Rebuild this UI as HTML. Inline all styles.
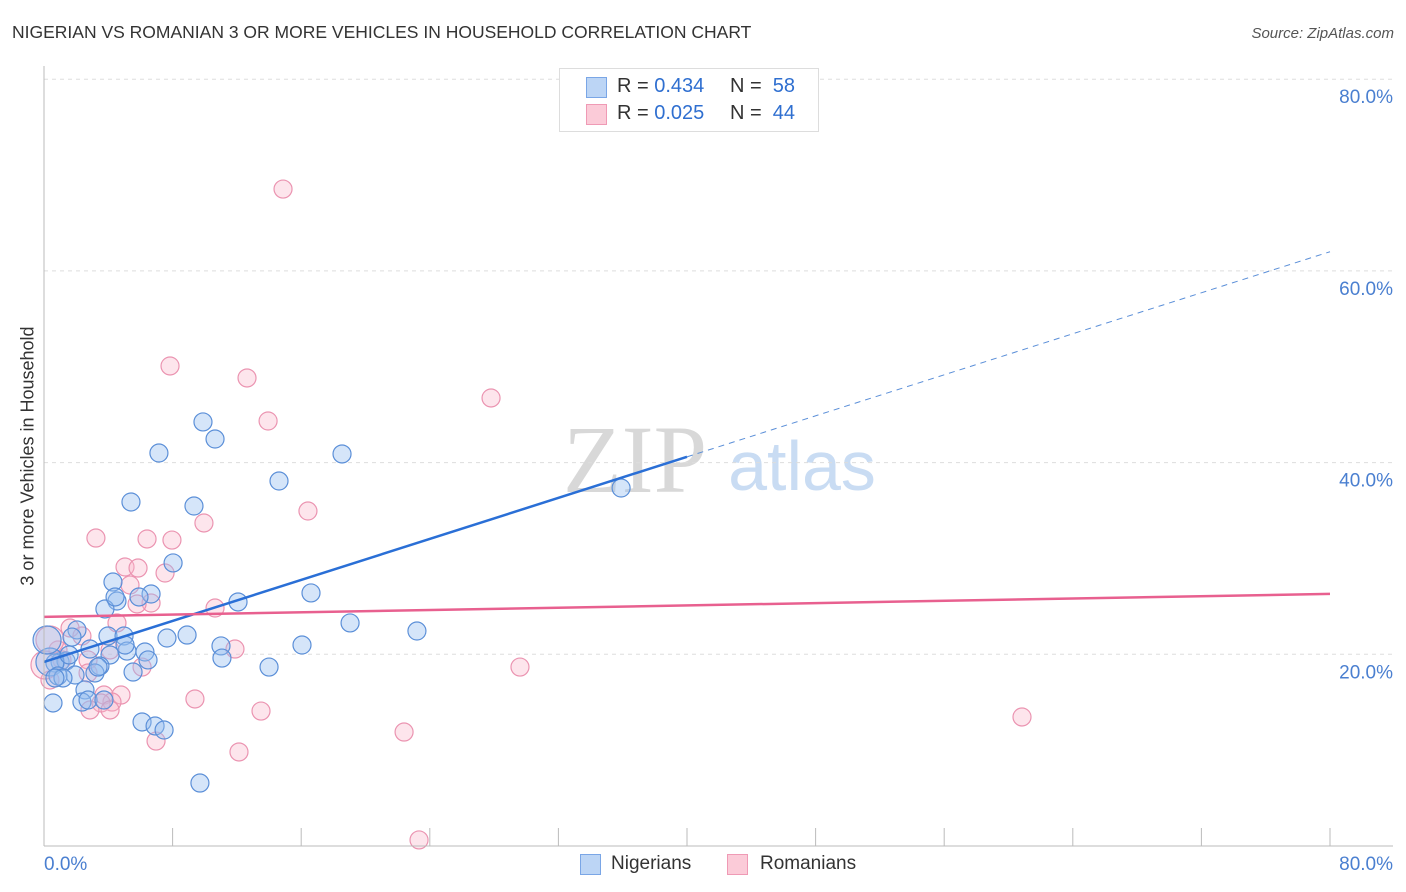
<!DOCTYPE html>
<html><head><meta charset="utf-8"><style>
body{margin:0;background:#fff;font-family:"Liberation Sans",sans-serif;}
#wrap{position:relative;width:1406px;height:892px;overflow:hidden;}
.t{position:absolute;white-space:nowrap;}
</style></head><body>
<div id="wrap">
<div class="t" style="left:12px;top:22px;font-size:17.5px;color:#333;">NIGERIAN VS ROMANIAN 3 OR MORE VEHICLES IN HOUSEHOLD CORRELATION CHART</div>
<div class="t" style="right:12px;top:25px;font-size:15px;color:#555;font-style:italic;">Source: ZipAtlas.com</div>
<svg id="plot" width="1406" height="892" style="position:absolute;left:0;top:0">
<text x="635" y="492" font-family="Liberation Serif,serif" font-size="96" fill="#d8d8d8" text-anchor="middle">ZIP</text>
<text x="802" y="490" font-family="Liberation Sans,sans-serif" font-size="70" fill="#c9dcf3" text-anchor="middle">atlas</text>
<g id="grid"></g><g id="pts"></g><g id="lines"></g><g id="axes"></g>
</svg>
<div class="t" style="left:28px;top:456px;font-size:18px;color:#333;transform:translate(-50%,-50%) rotate(-90deg);">3 or more Vehicles in Household</div>
<div style="position:absolute;left:559px;top:68px;width:258px;height:62px;border:1px solid #ddd;background:#fff;font-size:20px;">
 <div style="position:absolute;left:26px;top:8px;width:19px;height:19px;background:#bcd5f5;border:1px solid #7aa6e6;"></div>
 <div class="t" style="left:57px;top:6px;color:#333;">R = <span style="color:#2f6fd0">0.434</span></div>
 <div class="t" style="left:170px;top:6px;color:#333;">N = &nbsp;<span style="color:#2f6fd0">58</span></div>
 <div style="position:absolute;left:26px;top:35px;width:19px;height:19px;background:#fbcbd8;border:1px solid #ef9ab5;"></div>
 <div class="t" style="left:57px;top:33px;color:#333;">R = <span style="color:#2f6fd0">0.025</span></div>
 <div class="t" style="left:170px;top:33px;color:#333;">N = &nbsp;<span style="color:#2f6fd0">44</span></div>
</div>
<div style="position:absolute;left:580px;top:854px;width:19px;height:19px;background:#bcd5f5;border:1px solid #7aa6e6;"></div>
<div class="t" style="left:611px;top:853px;font-size:19px;color:#333;">Nigerians</div>
<div style="position:absolute;left:727px;top:854px;width:19px;height:19px;background:#fbcbd8;border:1px solid #ef9ab5;"></div>
<div class="t" style="left:760px;top:853px;font-size:19px;color:#333;">Romanians</div>
</div>
<script>
const yTicks=[20,40,60,80];
const yTickLabels=["20.0%","40.0%","60.0%","80.0%"];
const xTicks=[0,8,16,24,32,40,48,56,64,72,80];
const nigX=[5.41,7.15,9.89,10.64,14.62,18.54,9.33,8.03,4.29,6.66,4.54,3.79,5.91,12.07,16.61,19.04,23.2,35.9,3.98,4.98,8.9,7.65,11.01,16.05,2.05,1.74,2.86,4.11,5.16,6.28,6.47,11.07,14.0,5.54,3.48,3.17,1.0,1.37,0.68,0.37,1.93,0.87,2.55,0.56,2.36,2.74,6.1,6.91,7.47,9.7,3.73,1.18,5.04,3.36,4.42,0.19,0.68,1.56];
const nigY=[35.89,41.0,44.24,42.46,38.08,40.9,35.47,29.53,27.54,26.29,25.56,24.73,25.98,25.46,26.4,23.27,22.43,37.35,21.91,21.91,22.01,21.7,20.87,20.97,22.54,21.8,20.55,19.93,20.34,20.24,19.41,19.61,18.67,18.15,18.78,18.05,19.2,19.3,19.09,19.2,17.84,17.74,16.28,14.92,15.02,15.23,12.94,12.52,12.1,6.57,15.23,17.53,20.97,18.67,25.98,21.49,17.53,19.93];
const romX=[14.87,7.84,12.63,13.94,27.81,16.42,9.95,3.23,6.41,7.96,5.04,5.85,7.53,5.35,6.66,5.79,10.64,4.54,1.62,2.36,4.11,11.88,0.87,0.37,1.12,2.74,6.1,29.61,2.74,0.37,3.73,4.79,9.39,4.23,3.55,2.86,13.5,60.84,4.11,6.97,12.13,22.4,23.33,0.06];
const romY=[68.54,50.08,48.83,44.34,46.74,34.95,33.7,32.13,32.03,31.92,29.11,29.0,28.48,27.23,25.35,25.25,24.83,23.27,22.74,21.91,20.45,20.55,20.45,21.49,19.41,19.41,18.67,18.67,18.05,17.32,15.75,15.75,15.34,15.02,14.92,14.19,14.08,13.46,14.19,10.95,9.81,11.89,0.63,18.88];
const nigTrend=[19.2,62.0];
const romTrend=[23.9,26.3];
const NS="http://www.w3.org/2000/svg";
const sx=v=>44+v/80*1286, sy=v=>846-v/20*191.7;
function mk(tag,attrs,parent){const e=document.createElementNS(NS,tag);for(const k in attrs)e.setAttribute(k,attrs[k]);document.getElementById(parent).appendChild(e);return e;}
yTicks.forEach((t,i)=>{
 const g=mk('line',{x1:44,x2:1393,y1:sy(t),y2:sy(t),stroke:'#ddd','stroke-dasharray':'4,4'},'grid');
 
 
 const tx=mk('text',{x:1393,y:sy(t)+24,'text-anchor':'end','font-size':19,fill:'#4a7fd0','font-family':'Liberation Sans,sans-serif'},'axes');
 tx.textContent=yTickLabels[i];
 
 
});
const ax=mk('line',{x1:44,x2:44,y1:66,y2:846,stroke:'#bbb'},'axes');


const bx=mk('line',{x1:44,x2:1393,y1:846,y2:846,stroke:'#bbb'},'axes');


xTicks.forEach(t=>{
 const l=mk('line',{x1:sx(t),x2:sx(t),y1:828,y2:846,stroke:'#bbb'},'axes');
 
 
});
const xl0=mk('text',{x:44,y:870,'font-size':19,fill:'#4a7fd0','font-family':'Liberation Sans,sans-serif'},'axes');
xl0.textContent='0.0%';


const xl1=mk('text',{x:1393,y:870,'text-anchor':'end','font-size':19,fill:'#4a7fd0','font-family':'Liberation Sans,sans-serif'},'axes');
xl1.textContent='80.0%';


function dots(X,Y,fill,stroke,name){
 X.forEach((x,i)=>{
  const big=(x<0.5&&Math.abs(Y[i]-20)<2);
  const c=mk('circle',{cx:sx(x),cy:sy(Y[i]),r:big?14:9,fill:fill,stroke:stroke,'stroke-width':1.2},'pts');
  
  
 });
}
dots(romX,romY,'rgba(248,180,200,0.35)','#eb94b1','point-romanian');
dots(nigX,nigY,'rgba(150,190,240,0.4)','#5b8fd8','point-nigerian');
const xEnd=35.9;
const ySolid=nigTrend[0]+(nigTrend[1]-nigTrend[0])*xEnd/80;
const b1=mk('line',{x1:sx(0),y1:sy(nigTrend[0]),x2:sx(xEnd+4.1),y2:sy(nigTrend[0]+(nigTrend[1]-nigTrend[0])*40/80),stroke:'#2a6fd6','stroke-width':2.5},'lines');


const b2=mk('line',{x1:sx(40),y1:sy(nigTrend[0]+(nigTrend[1]-nigTrend[0])*40/80),x2:sx(80),y2:sy(nigTrend[1]),stroke:'#5b8fd8','stroke-width':1,'stroke-dasharray':'6,5'},'lines');


const p1=mk('line',{x1:sx(0),y1:sy(romTrend[0]),x2:sx(80),y2:sy(romTrend[1]),stroke:'#e8608f','stroke-width':2.5},'lines');


</script>
</body></html>
